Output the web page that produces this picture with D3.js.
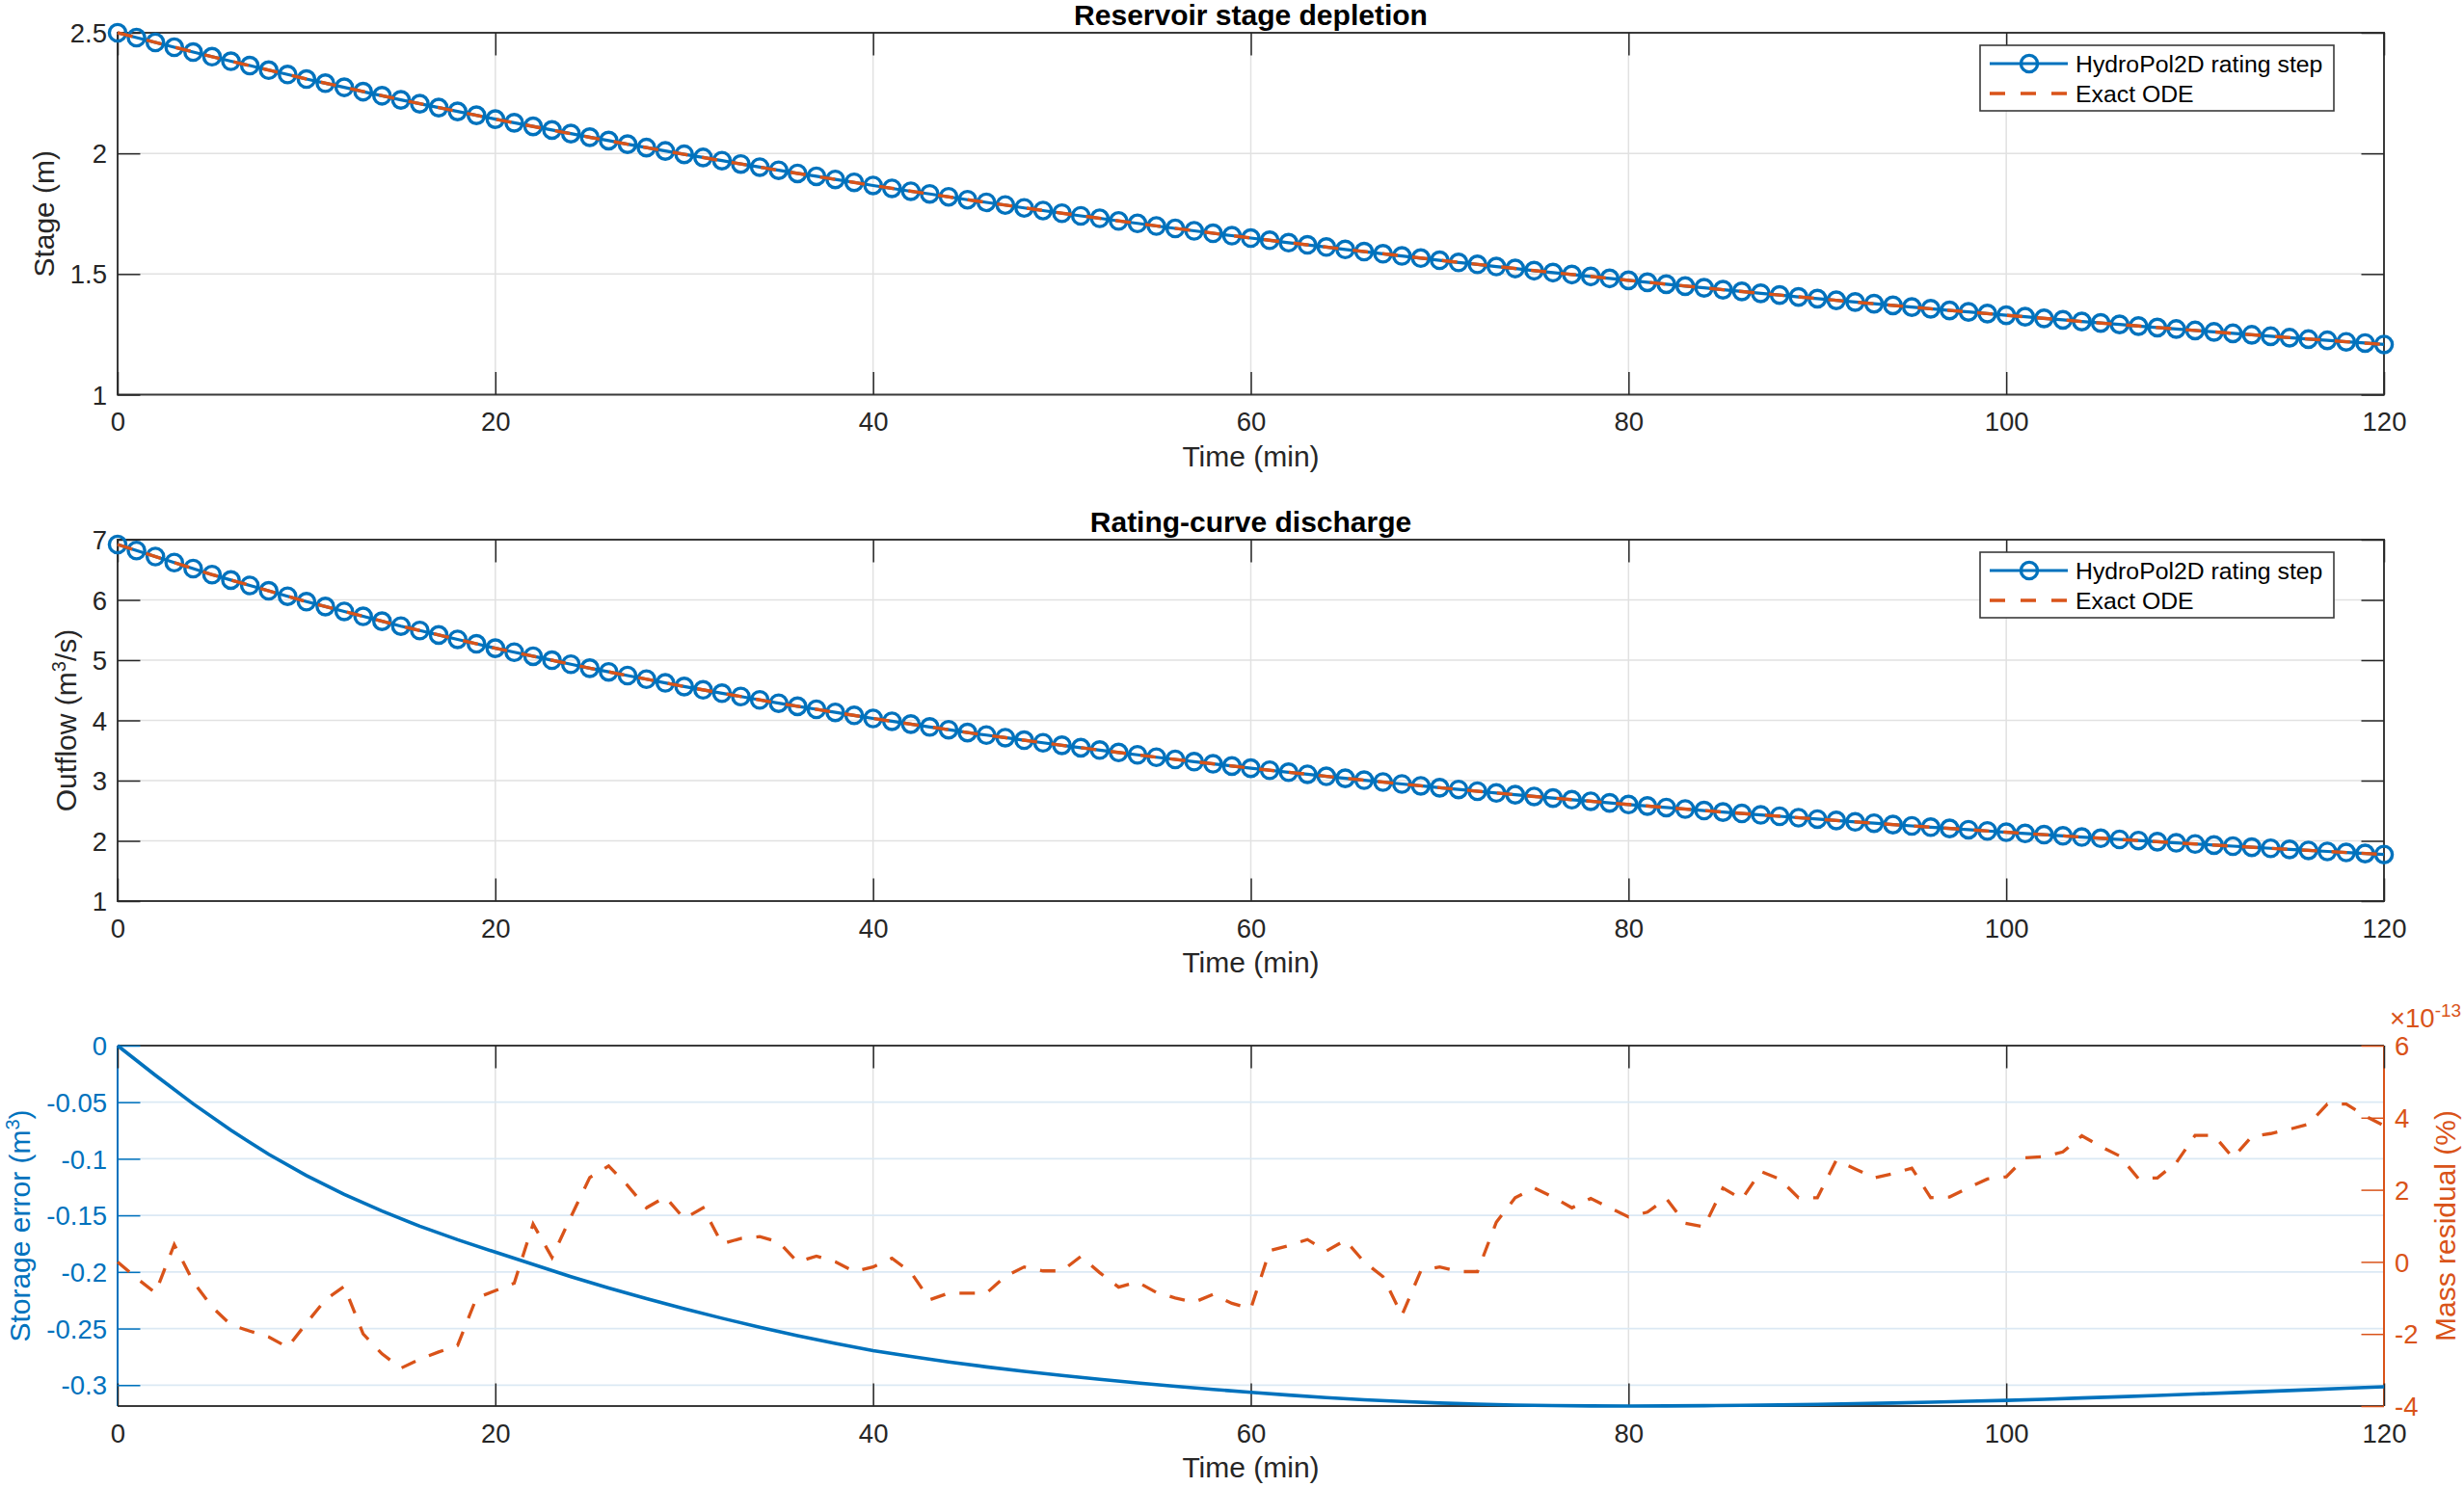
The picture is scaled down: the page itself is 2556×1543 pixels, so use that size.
<!DOCTYPE html>
<html>
<head>
<meta charset="utf-8">
<script src="https://cdn.jsdelivr.net/npm/d3@7"></script>
<style>
  html, body { margin: 0; padding: 0; background: #ffffff; }
  svg { display: block; }
</style>
</head>
<body>
<svg id="fig" width="2556" height="1543"></svg>
<script>
// ---------------- DATA ----------------
const timeMin = d3.range(0, 121, 1);            // HydroPol2D output every minute
const stage = [                                  // m
  2.500, 2.480, 2.460, 2.440, 2.420, 2.401, 2.382, 2.364, 2.345, 2.327,
  2.308, 2.291, 2.274, 2.256, 2.239, 2.222, 2.206, 2.190, 2.174, 2.158,
  2.142, 2.127, 2.112, 2.097, 2.082, 2.067, 2.053, 2.038, 2.024, 2.010,
  1.996, 1.983, 1.970, 1.956, 1.943, 1.930, 1.917, 1.905, 1.892, 1.880,
  1.867, 1.855, 1.843, 1.832, 1.820, 1.808, 1.797, 1.786, 1.774, 1.763,
  1.752, 1.741, 1.731, 1.720, 1.710, 1.699, 1.689, 1.679, 1.669, 1.659,
  1.649, 1.640, 1.630, 1.621, 1.612, 1.602, 1.593, 1.584, 1.575, 1.566,
  1.557, 1.548, 1.540, 1.531, 1.523, 1.514, 1.506, 1.498, 1.490, 1.482,
  1.474, 1.466, 1.458, 1.450, 1.443, 1.435, 1.428, 1.420, 1.413, 1.405,
  1.398, 1.391, 1.384, 1.377, 1.370, 1.363, 1.356, 1.349, 1.343, 1.336,
  1.329, 1.323, 1.316, 1.310, 1.303, 1.297, 1.291, 1.284, 1.278, 1.272,
  1.266, 1.260, 1.254, 1.248, 1.242, 1.236, 1.230, 1.225, 1.219, 1.214,
  1.208
];
const outflow = [                                // m3/s
  6.920, 6.820, 6.720, 6.620, 6.520, 6.420, 6.330, 6.240, 6.151, 6.061,
  5.971, 5.890, 5.809, 5.727, 5.646, 5.565, 5.492, 5.418, 5.345, 5.271,
  5.198, 5.132, 5.065, 4.999, 4.932, 4.866, 4.805, 4.744, 4.684, 4.623,
  4.562, 4.507, 4.451, 4.396, 4.340, 4.285, 4.234, 4.184, 4.133, 4.083,
  4.032, 3.985, 3.938, 3.891, 3.845, 3.798, 3.756, 3.713, 3.671, 3.628,
  3.586, 3.546, 3.507, 3.467, 3.428, 3.388, 3.352, 3.315, 3.279, 3.242,
  3.206, 3.172, 3.139, 3.105, 3.071, 3.038, 3.007, 2.976, 2.944, 2.913,
  2.882, 2.853, 2.824, 2.795, 2.766, 2.737, 2.710, 2.683, 2.657, 2.630,
  2.603, 2.578, 2.553, 2.528, 2.503, 2.478, 2.455, 2.431, 2.408, 2.384,
  2.361, 2.338, 2.315, 2.293, 2.270, 2.248, 2.227, 2.206, 2.185, 2.164,
  2.143, 2.123, 2.103, 2.083, 2.063, 2.043, 2.024, 2.005, 1.986, 1.967,
  1.948, 1.930, 1.912, 1.894, 1.876, 1.858, 1.841, 1.824, 1.807, 1.790,
  1.773
];
const exactTime = [0, 5, 10, 15, 20, 25, 30, 35, 40, 45, 50, 55, 60,
                   65, 70, 75, 80, 85, 90, 95, 100, 105, 110, 115, 120];
const exactStage = [2.5000, 2.4006, 2.3083, 2.2222, 2.1416, 2.0666, 1.9960, 1.9296, 1.8669,
                    1.8078, 1.7522, 1.6994, 1.6494, 1.6021, 1.5572, 1.5144, 1.4737, 1.4349,
                    1.3979, 1.3627, 1.3290, 1.2968, 1.2660, 1.2363, 1.2080];
const exactOutflow = [6.920, 6.420, 5.971, 5.565, 5.198, 4.866, 4.562, 4.285, 4.032,
                      3.798, 3.586, 3.388, 3.206, 3.038, 2.882, 2.737, 2.603, 2.478,
                      2.361, 2.248, 2.143, 2.043, 1.948, 1.858, 1.773];
const errTime = d3.range(0, 121, 2);
const storageError = [                           // m3
   0.0000, -0.0262, -0.0514, -0.0748, -0.0960, -0.1148, -0.1314, -0.1462, -0.1596, -0.1715, -0.1825,
  -0.1933, -0.2041, -0.2141, -0.2235, -0.2325, -0.2409, -0.2489, -0.2563, -0.2631, -0.2695,
  -0.2747, -0.2795, -0.2839, -0.2879, -0.2915, -0.2948, -0.2980, -0.3010, -0.3038, -0.3064,
  -0.3088, -0.3110, -0.3129, -0.3145, -0.3158, -0.3168, -0.3176, -0.3181, -0.3184, -0.3185,
  -0.3184, -0.3182, -0.3179, -0.3175, -0.3170, -0.3164, -0.3158, -0.3151, -0.3143, -0.3135,
  -0.3125, -0.3114, -0.3103, -0.3091, -0.3079, -0.3067, -0.3054, -0.3041, -0.3028, -0.3015
];
const massResidualE13 = [                        // % x 1e-13
   0.00, -0.45, -0.86,  0.48, -0.55, -1.25, -1.75, -1.92, -2.08, -2.37,
  -1.70, -1.05, -0.68, -2.00, -2.55, -2.95, -2.70, -2.50, -2.32, -1.00,
  -0.80, -0.59,  1.05,  0.12,  1.25,  2.34,  2.66,  2.12,  1.50,  1.80,
   1.20,  1.50,  0.50,  0.65,  0.70,  0.55,  0.00,  0.16,  0.00, -0.27,
  -0.14,  0.10, -0.29, -1.05, -0.87, -0.87, -0.87, -0.40, -0.14, -0.25,
  -0.25,  0.15, -0.30, -0.70, -0.56, -0.85, -1.00, -1.12, -0.90, -1.15,
  -1.30,  0.31,  0.45,  0.62,  0.30,  0.60,  0.00, -0.41, -1.48, -0.25,
  -0.14, -0.27, -0.27,  1.10,  1.78,  2.05,  1.80,  1.50,  1.76,  1.50,
   1.25,  1.38,  1.76,  1.07,  0.97,  2.05,  1.74,  2.51,  2.30,  1.78,
   1.78,  2.82,  2.58,  2.33,  2.45,  2.60,  1.78,  1.80,  2.06,  2.30,
   2.36,  2.89,  2.92,  3.05,  3.50,  3.20,  2.94,  2.31,  2.33,  2.75,
   3.51,  3.51,  2.89,  3.48,  3.56,  3.68,  3.82,  4.38,  4.38,  4.05,
   3.78
];
const xTicks = [0, 20, 40, 60, 80, 100, 120];
const stageTicks = [1, 1.5, 2, 2.5];
const flowTicks = [1, 2, 3, 4, 5, 6, 7];
const errTicks = [-0.3, -0.25, -0.2, -0.15, -0.1, -0.05, 0];
const resTicks = [-4, -2, 0, 2, 4, 6];
const seriesNames = ["HydroPol2D rating step", "Exact ODE"];

// ---------------- STYLE / LAYOUT ----------------
const FONT = "'Liberation Sans', Arial, Helvetica, sans-serif";
const BLUE = "#0072BD", ORANGE = "#D95319", DARK = "#262626", FRAME = "#3a3a3a";
const GRID = "#e1e1e1", GRID_BLUE = "#dbe9f4";
const TICK_FS = 27.5, LABEL_FS = 30, LEG_FS = 24.8, TICKLEN = 23.5;
const L = 122, R = 2473;
const DASH = "16,15";
const MARK_R = 8.6, MARK_W = 3.4;

const svg = d3.select("#fig");
svg.append("rect").attr("width", 2556).attr("height", 1543).attr("fill", "#fff");

const x = d3.scaleLinear().domain([0, 120]).range([L, R]);
const fmt = d => String(+d.toFixed(4)).replace("\u2212", "-");

function styleAxis(sel, color) {
  sel.select(".domain").remove();
  sel.attr("font-family", FONT).attr("font-size", TICK_FS);
  sel.selectAll(".tick line").attr("stroke", color).attr("stroke-width", 1.5);
  sel.selectAll(".tick text").attr("fill", color);
}

function xGrid(g, top, bottom) {
  g.append("g").selectAll("line").data(xTicks).join("line")
    .attr("x1", d => x(d)).attr("x2", d => x(d))
    .attr("y1", top).attr("y2", bottom)
    .attr("stroke", GRID).attr("stroke-width", 1.5);
}
function drawXTicks(g, top, bottom) {
  g.append("g").attr("transform", `translate(0,${bottom})`)
    .call(d3.axisBottom(x).tickValues(xTicks).tickSize(-TICKLEN).tickSizeOuter(0)
      .tickPadding(18).tickFormat(fmt))
    .call(s => styleAxis(s, DARK));
  g.append("g").attr("transform", `translate(0,${top})`)
    .call(d3.axisTop(x).tickValues(xTicks).tickSize(-TICKLEN).tickSizeOuter(0).tickFormat(""))
    .call(s => styleAxis(s, DARK));
  g.append("text").attr("x", (L + R) / 2).attr("y", bottom + 74)
    .attr("text-anchor", "middle").attr("font-family", FONT).attr("font-size", LABEL_FS)
    .attr("fill", DARK).text("Time (min)");
}

function legend(g, top) {
  const lg = g.append("g");
  const bx = 2054, by = top + 13, bw = 367, bh = 68;
  lg.append("rect").attr("x", bx).attr("y", by).attr("width", bw).attr("height", bh)
    .attr("fill", "#fff").attr("stroke", FRAME).attr("stroke-width", 1.6);
  const r1 = by + 19, r2 = by + 50;
  lg.append("line").attr("x1", 2064).attr("x2", 2145).attr("y1", r1).attr("y2", r1)
    .attr("stroke", BLUE).attr("stroke-width", 3.2);
  lg.append("circle").attr("cx", 2105).attr("cy", r1).attr("r", MARK_R)
    .attr("fill", "none").attr("stroke", BLUE).attr("stroke-width", MARK_W);
  lg.append("line").attr("x1", 2064).attr("x2", 2145).attr("y1", r2).attr("y2", r2)
    .attr("stroke", ORANGE).attr("stroke-width", 3.3).attr("stroke-dasharray", "16,16");
  lg.append("text").attr("x", 2153).attr("y", r1).attr("dy", "0.35em")
    .attr("font-family", FONT).attr("font-size", LEG_FS).attr("fill", "#000").text(seriesNames[0]);
  lg.append("text").attr("x", 2153).attr("y", r2).attr("dy", "0.35em")
    .attr("font-family", FONT).attr("font-size", LEG_FS).attr("fill", "#000").text(seriesNames[1]);
}

function comparisonPanel(top, bottom, yDomain, yTicks, title, yLabelX, yLabelBuilder, sim, exact) {
  const g = svg.append("g");
  const y = d3.scaleLinear().domain(yDomain).range([bottom, top]);
  // grid
  xGrid(g, top, bottom);
  g.append("g").selectAll("line").data(yTicks).join("line")
    .attr("x1", L).attr("x2", R).attr("y1", d => y(d)).attr("y2", d => y(d))
    .attr("stroke", GRID).attr("stroke-width", 1.5);
  // frame
  g.append("rect").attr("x", L).attr("y", top).attr("width", R - L).attr("height", bottom - top)
    .attr("fill", "none").attr("stroke", FRAME).attr("stroke-width", 2);
  // ticks
  drawXTicks(g, top, bottom);
  g.append("g").attr("transform", `translate(${L},0)`)
    .call(d3.axisLeft(y).tickValues(yTicks).tickSize(-TICKLEN).tickSizeOuter(0)
      .tickPadding(11).tickFormat(fmt))
    .call(s => styleAxis(s, DARK))
    .call(s => s.selectAll(".tick text").attr("dy", "0.35em"));
  g.append("g").attr("transform", `translate(${R},0)`)
    .call(d3.axisRight(y).tickValues(yTicks).tickSize(-TICKLEN).tickSizeOuter(0).tickFormat(""))
    .call(s => styleAxis(s, DARK));
  // title
  g.append("text").attr("x", (L + R) / 2).attr("y", top - 8).attr("text-anchor", "middle")
    .attr("font-family", FONT).attr("font-size", LABEL_FS).attr("font-weight", "bold")
    .attr("fill", "#000").text(title);
  // y label
  const yl = g.append("text").attr("transform", `translate(${yLabelX},${(top + bottom) / 2}) rotate(-90)`)
    .attr("text-anchor", "middle").attr("font-family", FONT).attr("font-size", LABEL_FS)
    .attr("fill", DARK);
  yLabelBuilder(yl);
  // data
  const pts = timeMin.map((t, i) => [t, sim[i]]);
  g.append("path").datum(pts)
    .attr("d", d3.line().x(d => x(d[0])).y(d => y(d[1])))
    .attr("fill", "none").attr("stroke", BLUE).attr("stroke-width", 3.2);
  g.append("g").selectAll("circle").data(pts).join("circle")
    .attr("cx", d => x(d[0])).attr("cy", d => y(d[1])).attr("r", MARK_R)
    .attr("fill", "none").attr("stroke", BLUE).attr("stroke-width", MARK_W);
  g.append("path").datum(exactTime.map((t, i) => [t, exact[i]]))
    .attr("d", d3.line().x(d => x(d[0])).y(d => y(d[1])))
    .attr("fill", "none").attr("stroke", ORANGE).attr("stroke-width", 3.4)
    .attr("stroke-dasharray", DASH);
  legend(g, top);
}

comparisonPanel(34, 409.5, [1, 2.5], stageTicks, "Reservoir stage depletion", 55.5,
  t => t.text("Stage (m)"), stage, exactStage);

comparisonPanel(560, 935, [1, 7], flowTicks, "Rating-curve discharge", 79,
  t => {
    t.append("tspan").text("Outflow (m");
    t.append("tspan").attr("dy", -11).attr("font-size", 20).text("3");
    t.append("tspan").attr("dy", 11).text("/s)");
  }, outflow, exactOutflow);

// ---------------- BOTTOM PANEL (two y axes) ----------------
(function () {
  const top = 1085, bottom = 1459;
  const g = svg.append("g");
  const yL = d3.scaleLinear().domain([d3.min(storageError), 0]).range([bottom, top]);
  const yR = d3.scaleLinear().domain([resTicks[0], resTicks[resTicks.length - 1]]).range([bottom, top]);
  // grid
  xGrid(g, top, bottom);
  g.append("g").selectAll("line").data(errTicks.filter(d => d !== 0)).join("line")
    .attr("x1", L).attr("x2", R).attr("y1", d => yL(d)).attr("y2", d => yL(d))
    .attr("stroke", GRID_BLUE).attr("stroke-width", 1.8);
  // frame
  g.append("line").attr("x1", L).attr("x2", R).attr("y1", top).attr("y2", top)
    .attr("stroke", FRAME).attr("stroke-width", 2);
  g.append("line").attr("x1", L).attr("x2", R).attr("y1", bottom).attr("y2", bottom)
    .attr("stroke", FRAME).attr("stroke-width", 2);
  g.append("line").attr("x1", L).attr("x2", L).attr("y1", top).attr("y2", bottom)
    .attr("stroke", BLUE).attr("stroke-width", 2);
  g.append("line").attr("x1", R).attr("x2", R).attr("y1", top).attr("y2", bottom)
    .attr("stroke", ORANGE).attr("stroke-width", 2);
  // ticks
  drawXTicks(g, top, bottom);
  g.append("g").attr("transform", `translate(${L},0)`)
    .call(d3.axisLeft(yL).tickValues(errTicks).tickSize(-TICKLEN).tickSizeOuter(0)
      .tickPadding(11).tickFormat(fmt))
    .call(s => styleAxis(s, BLUE))
    .call(s => s.selectAll(".tick text").attr("dy", "0.35em"));
  g.append("g").attr("transform", `translate(${R},0)`)
    .call(d3.axisRight(yR).tickValues(resTicks).tickSize(-TICKLEN).tickSizeOuter(0)
      .tickPadding(11).tickFormat(fmt))
    .call(s => styleAxis(s, ORANGE))
    .call(s => s.selectAll(".tick text").attr("dy", "0.35em"));
  // exponent label
  const ex = g.append("text").attr("x", 2479).attr("y", 1066)
    .attr("font-family", FONT).attr("font-size", TICK_FS).attr("fill", ORANGE);
  ex.append("tspan").text("\u00d710");
  ex.append("tspan").attr("dy", -11).attr("font-size", 19).text("-13");
  // y labels
  const yl = g.append("text").attr("transform", `translate(31,${(top + bottom) / 2}) rotate(-90)`)
    .attr("text-anchor", "middle").attr("font-family", FONT).attr("font-size", LABEL_FS)
    .attr("fill", BLUE);
  yl.append("tspan").text("Storage error (m");
  yl.append("tspan").attr("dy", -11).attr("font-size", 20).text("3");
  yl.append("tspan").attr("dy", 11).text(")");
  g.append("text").attr("transform", `translate(2547,${(top + bottom) / 2}) rotate(-90)`)
    .attr("text-anchor", "middle").attr("font-family", FONT).attr("font-size", LABEL_FS)
    .attr("fill", ORANGE).text("Mass residual (%)");
  // data
  g.append("path").datum(errTime.map((t, i) => [t, storageError[i]]))
    .attr("d", d3.line().x(d => x(d[0])).y(d => yL(d[1])))
    .attr("fill", "none").attr("stroke", BLUE).attr("stroke-width", 3.6);
  g.append("path").datum(timeMin.map((t, i) => [t, massResidualE13[i]]))
    .attr("d", d3.line().x(d => x(d[0])).y(d => yR(d[1])))
    .attr("fill", "none").attr("stroke", ORANGE).attr("stroke-width", 3.3)
    .attr("stroke-dasharray", DASH);
})();
</script>
</body>
</html>
